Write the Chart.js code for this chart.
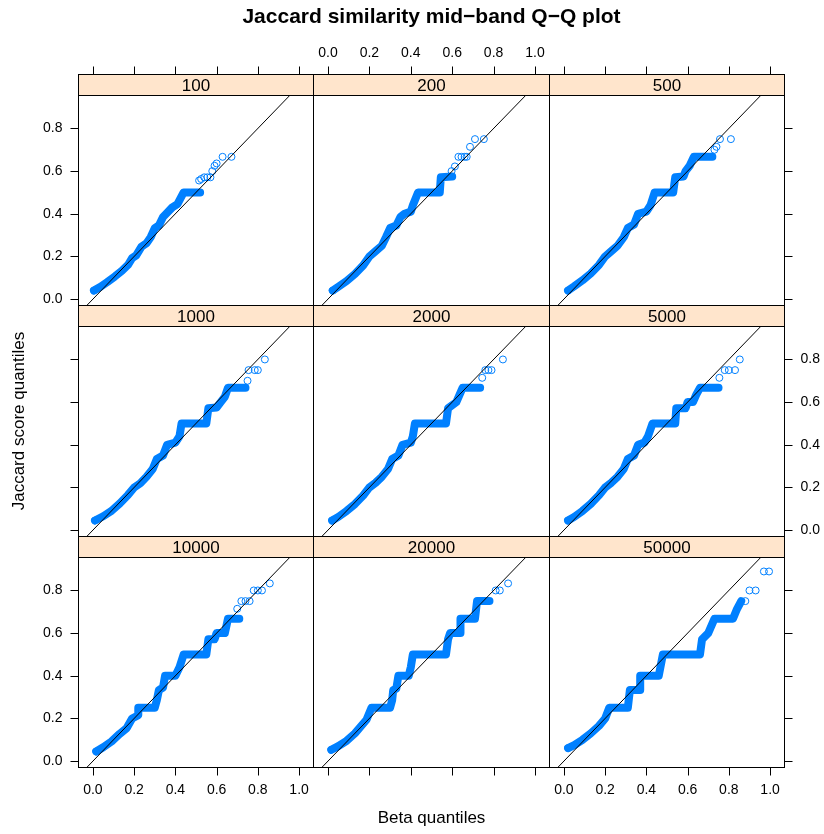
<!DOCTYPE html>
<html>
<head>
<meta charset="utf-8">
<script src="https://cdn.jsdelivr.net/npm/chart.js@4.4.1/dist/chart.umd.min.js"></script>
<style>
  html, body { margin: 0; padding: 0; background: #ffffff; }
  #wrap { position: relative; width: 824px; height: 834px; }
  #wrap canvas { position: absolute; left: 0; top: 0; }
</style>
</head>
<body>
<div id="wrap"></div>
<script>
// Panel labels (sample sizes), row by row from the top-left
const panelNames = ['100', '200', '500', '1000', '2000', '5000', '10000', '20000', '50000'];

// Axis ticks and limits shared by every panel
const xTicks = [0, 0.2, 0.4, 0.6, 0.8, 1.0];
const yTicks = [0, 0.2, 0.4, 0.6, 0.8];
const xLimits = [-0.07, 1.07];
const yLimits = [-0.03, 0.9545];

// Reference line y = x
const refLine = [[-0.07, -0.07], [1.07, 1.07]];

// Dense run of quantile points (beta quantile, jaccard quantile) per panel
const band100 = [[0.005,0.040],[0.035,0.057],[0.07,0.080],[0.105,0.105],[0.14,0.132],[0.17,0.160],[0.19,0.192],[0.21,0.205],[0.235,0.245],[0.26,0.262],[0.28,0.29],[0.30,0.333],[0.32,0.345],[0.34,0.385],[0.36,0.405],[0.385,0.43],[0.41,0.445],[0.44,0.5],[0.52,0.5]];
const band200 = [[0.023,0.040],[0.05,0.058],[0.09,0.085],[0.13,0.118],[0.17,0.158],[0.20,0.20],[0.23,0.225],[0.26,0.25],[0.28,0.29],[0.30,0.333],[0.33,0.345],[0.35,0.385],[0.37,0.40],[0.40,0.41],[0.41,0.44],[0.435,0.5],[0.54,0.5],[0.545,0.571],[0.60,0.575]];
const band500 = [[0.02,0.040],[0.05,0.06],[0.09,0.088],[0.13,0.12],[0.17,0.16],[0.20,0.20],[0.23,0.225],[0.26,0.25],[0.29,0.29],[0.31,0.333],[0.34,0.35],[0.36,0.40],[0.40,0.41],[0.42,0.44],[0.44,0.5],[0.53,0.5],[0.54,0.571],[0.58,0.575],[0.59,0.6],[0.61,0.625],[0.63,0.667],[0.72,0.667]];
const band1000 = [[0.01,0.045],[0.05,0.065],[0.09,0.09],[0.13,0.125],[0.17,0.165],[0.20,0.20],[0.23,0.22],[0.26,0.25],[0.29,0.286],[0.31,0.333],[0.34,0.35],[0.36,0.40],[0.40,0.41],[0.42,0.44],[0.43,0.5],[0.55,0.5],[0.56,0.571],[0.60,0.575],[0.62,0.6],[0.64,0.625],[0.655,0.667],[0.74,0.667]];
const band2000 = [[0.02,0.045],[0.05,0.062],[0.09,0.09],[0.13,0.122],[0.17,0.162],[0.20,0.20],[0.23,0.222],[0.26,0.25],[0.29,0.286],[0.31,0.333],[0.34,0.35],[0.36,0.40],[0.40,0.41],[0.41,0.44],[0.42,0.5],[0.57,0.5],[0.58,0.571],[0.62,0.6],[0.65,0.667],[0.735,0.667]];
const band5000 = [[0.02,0.045],[0.05,0.062],[0.09,0.09],[0.13,0.123],[0.17,0.163],[0.20,0.20],[0.23,0.222],[0.26,0.25],[0.29,0.286],[0.31,0.333],[0.34,0.35],[0.36,0.40],[0.39,0.41],[0.408,0.44],[0.43,0.5],[0.54,0.5],[0.545,0.571],[0.59,0.571],[0.60,0.6],[0.626,0.6],[0.642,0.635],[0.66,0.667],[0.75,0.667]];
const band10000 = [[0.016,0.045],[0.05,0.065],[0.09,0.092],[0.13,0.128],[0.164,0.155],[0.19,0.2],[0.22,0.215],[0.22,0.25],[0.30,0.25],[0.31,0.286],[0.32,0.333],[0.34,0.345],[0.35,0.40],[0.40,0.40],[0.42,0.44],[0.44,0.5],[0.55,0.5],[0.56,0.571],[0.59,0.571],[0.60,0.6],[0.64,0.6],[0.655,0.667],[0.71,0.667]];
const band20000 = [[0.016,0.053],[0.05,0.07],[0.09,0.095],[0.13,0.13],[0.186,0.194],[0.21,0.25],[0.30,0.25],[0.31,0.286],[0.315,0.333],[0.33,0.34],[0.34,0.40],[0.39,0.40],[0.40,0.44],[0.41,0.5],[0.57,0.5],[0.58,0.571],[0.59,0.6],[0.64,0.6],[0.64,0.667],[0.71,0.667],[0.72,0.75],[0.78,0.75]];
const band50000 = [[0.02,0.061],[0.05,0.075],[0.09,0.10],[0.13,0.13],[0.17,0.165],[0.20,0.2],[0.22,0.25],[0.31,0.25],[0.32,0.333],[0.37,0.333],[0.37,0.40],[0.46,0.40],[0.48,0.5],[0.66,0.5],[0.67,0.571],[0.70,0.6],[0.73,0.667],[0.82,0.667],[0.84,0.714],[0.86,0.75]];

// Sparse upper-tail quantile points per panel
const tail100 = [[0.005,0.040],[0.515,0.556],[0.525,0.563],[0.54,0.571],[0.555,0.571],[0.57,0.571],[0.579,0.6],[0.59,0.625],[0.60,0.636],[0.629,0.667],[0.672,0.667]];
const tail200 = [[0.023,0.040],[0.597,0.6],[0.613,0.622],[0.63,0.667],[0.645,0.667],[0.66,0.667],[0.67,0.667],[0.686,0.714],[0.71,0.75],[0.753,0.75]];
const tail500 = [[0.02,0.040],[0.73,0.70],[0.74,0.714],[0.757,0.75],[0.81,0.75]];
const tail1000 = [[0.01,0.045],[0.75,0.70],[0.755,0.75],[0.785,0.75],[0.80,0.75],[0.834,0.8]];
const tail2000 = [[0.02,0.045],[0.745,0.714],[0.76,0.75],[0.775,0.75],[0.79,0.75],[0.845,0.8]];
const tail5000 = [[0.02,0.045],[0.754,0.714],[0.78,0.75],[0.80,0.75],[0.83,0.75],[0.853,0.8]];
const tail10000 = [[0.016,0.045],[0.70,0.714],[0.72,0.75],[0.74,0.75],[0.76,0.75],[0.78,0.8],[0.80,0.8],[0.82,0.8],[0.858,0.833]];
const tail20000 = [[0.016,0.053],[0.81,0.8],[0.83,0.8],[0.87,0.833]];
const tail50000 = [[0.02,0.061],[0.88,0.75],[0.90,0.8],[0.93,0.8],[0.97,0.889],[0.995,0.889]];

const bands = [band100, band200, band500, band1000, band2000, band5000, band10000, band20000, band50000];
const tails = [tail100, tail200, tail500, tail1000, tail2000, tail5000, tail10000, tail20000, tail50000];

// Page layout of the 3 x 3 lattice
const W = 824, H = 834;
const colEdges = [78.5, 313.5, 549.5, 784.5];
const stripTops = [74.5, 305.5, 536.5];
const stripH = 21;
const panelBottoms = [305.5, 536.5, 767.5];
const FONT = '"Liberation Sans", Arial, Helvetica, sans-serif';
const POINT_BLUE = '#0080ff';
const STRIP_FILL = '#ffe5cc';

const toXY = arr => arr.map(p => ({ x: p[0], y: p[1] }));
const fmt = v => v.toFixed(1);

const latticePlugin = {
  id: 'latticePanel',
  afterDraw(chart, args, opts) {
    const { ctx, chartArea: a, scales } = chart;
    const row = opts.row, col = opts.col;
    const xs = scales.x, ys = scales.y;
    ctx.save();
    // strip
    const sTop = a.top - stripH;
    ctx.fillStyle = STRIP_FILL;
    ctx.fillRect(a.left, sTop, a.right - a.left, stripH);
    ctx.strokeStyle = '#000';
    ctx.lineWidth = 1;
    ctx.strokeRect(a.left, sTop, a.right - a.left, stripH);
    ctx.fillStyle = '#000';
    ctx.font = '17px ' + FONT;
    ctx.textAlign = 'center';
    ctx.textBaseline = 'middle';
    ctx.fillText(opts.label, (a.left + a.right) / 2, sTop + stripH / 2 + 1);
    // panel box
    ctx.strokeRect(a.left, a.top, a.right - a.left, a.bottom - a.top);

    ctx.font = '14px ' + FONT;
    ctx.beginPath();
    // top ticks (above the strip) on the first row
    if (row === 0) {
      xTicks.forEach(v => {
        const px = Math.round(xs.getPixelForValue(v)) + 0.5;
        ctx.moveTo(px, sTop); ctx.lineTo(px, sTop - 8);
      });
    }
    // bottom ticks on the last row
    if (row === 2) {
      xTicks.forEach(v => {
        const px = Math.round(xs.getPixelForValue(v)) + 0.5;
        ctx.moveTo(px, a.bottom); ctx.lineTo(px, a.bottom + 8);
      });
    }
    // left ticks on the first column
    if (col === 0) {
      yTicks.forEach(v => {
        const py = Math.round(ys.getPixelForValue(v)) + 0.5;
        ctx.moveTo(a.left, py); ctx.lineTo(a.left - 8, py);
      });
    }
    // right ticks on the last column
    if (col === 2) {
      yTicks.forEach(v => {
        const py = Math.round(ys.getPixelForValue(v)) + 0.5;
        ctx.moveTo(a.right, py); ctx.lineTo(a.right + 8, py);
      });
    }
    ctx.stroke();

    // alternating tick labels
    ctx.fillStyle = '#000';
    if (row === 0 && col === 1) {
      ctx.textAlign = 'center'; ctx.textBaseline = 'middle';
      xTicks.forEach(v => ctx.fillText(fmt(v), xs.getPixelForValue(v), sTop - 21));
    }
    if (row === 2 && col !== 1) {
      ctx.textAlign = 'center'; ctx.textBaseline = 'middle';
      xTicks.forEach(v => ctx.fillText(fmt(v), xs.getPixelForValue(v), a.bottom + 23));
    }
    if (col === 0 && row !== 1) {
      ctx.textAlign = 'right'; ctx.textBaseline = 'middle';
      yTicks.forEach(v => ctx.fillText(fmt(v), a.left - 16, ys.getPixelForValue(v)));
    }
    if (col === 2 && row === 1) {
      ctx.textAlign = 'left'; ctx.textBaseline = 'middle';
      yTicks.forEach(v => ctx.fillText(fmt(v), a.right + 16, ys.getPixelForValue(v)));
    }

    // overall titles, drawn once
    if (row === 0 && col === 0) {
      const cx = (colEdges[0] + colEdges[3]) / 2;
      ctx.textAlign = 'center'; ctx.textBaseline = 'middle';
      ctx.font = 'bold 21px ' + FONT;
      ctx.fillText('Jaccard similarity mid\u2212band Q\u2212Q plot', cx, 17);
      ctx.font = '17px ' + FONT;
      ctx.fillText('Beta quantiles', cx, 818);
      ctx.save();
      ctx.translate(19, (stripTops[0] + panelBottoms[2]) / 2);
      ctx.rotate(-Math.PI / 2);
      ctx.fillText('Jaccard score quantiles', 0, 0);
      ctx.restore();
    }
    ctx.restore();
  }
};

const wrap = document.getElementById('wrap');
panelNames.forEach((name, i) => {
  const row = Math.floor(i / 3), col = i % 3;
  const canvas = document.createElement('canvas');
  canvas.width = W; canvas.height = H;
  canvas.style.width = W + 'px'; canvas.style.height = H + 'px';
  wrap.appendChild(canvas);
  const left = colEdges[col], right = colEdges[col + 1];
  const top = stripTops[row] + stripH, bottom = panelBottoms[row];
  new Chart(canvas, {
    type: 'scatter',
    data: {
      datasets: [
        {
          type: 'line',
          data: toXY(refLine),
          borderColor: '#000000',
          borderWidth: 1,
          pointRadius: 0,
          tension: 0,
          clip: 0
        },
        {
          data: toXY(tails[i]),
          showLine: false,
          pointRadius: 3.5,
          pointBorderWidth: 1,
          borderColor: POINT_BLUE,
          backgroundColor: 'rgba(255,255,255,0)'
        },
        {
          type: 'line',
          data: toXY(bands[i]),
          borderColor: POINT_BLUE,
          borderWidth: 8,
          borderCapStyle: 'round',
          borderJoinStyle: 'round',
          pointRadius: 0,
          tension: 0,
          clip: 4
        }
      ]
    },
    options: {
      responsive: false,
      animation: false,
      devicePixelRatio: 1,
      events: [],
      layout: { padding: { left: left, right: W - right, top: top, bottom: H - bottom } },
      scales: {
        x: { type: 'linear', min: xLimits[0], max: xLimits[1], display: false },
        y: { type: 'linear', min: yLimits[0], max: yLimits[1], display: false }
      },
      plugins: {
        legend: { display: false },
        tooltip: { enabled: false },
        latticePanel: { row: row, col: col, label: name }
      }
    },
    plugins: [latticePlugin]
  });
});
</script>
</body>
</html>
